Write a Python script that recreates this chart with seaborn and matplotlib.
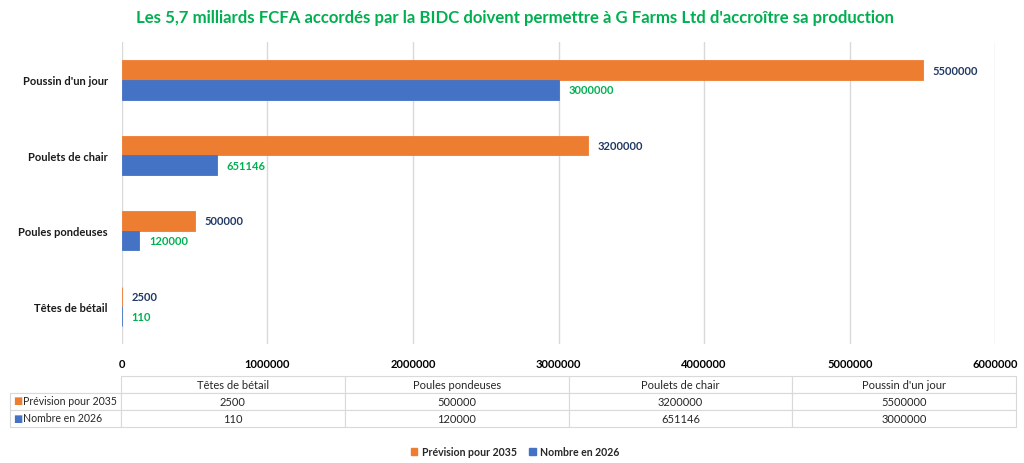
import numpy as np
import pandas as pd
import matplotlib
matplotlib.use("Agg")
import matplotlib.pyplot as plt
import seaborn as sns
from matplotlib.patches import Patch

# ==============================
# DATA
# ==============================
categories = ["Poussin d'un jour", "Poulets de chair", "Poules pondeuses", "Têtes de bétail"]
prevision_2035 = [5500000, 3200000, 500000, 2500]
nombre_2026 = [3000000, 651146, 120000, 110]
series_names = ["Prévision pour 2035", "Nombre en 2026"]
title = "Les 5,7 milliards FCFA accordés par la BIDC doivent permettre à G Farms Ltd d'accroître sa production"
x_ticks = [0, 1000000, 2000000, 3000000, 4000000, 5000000, 6000000]

orange = "#ED7D31"
blue = "#4472C4"
navy = "#203864"
green = "#00B050"
grid_col = "#D9D9D9"

df = pd.DataFrame({
    "Catégorie": categories * 2,
    "Valeur": prevision_2035 + nombre_2026,
    "Série": [series_names[0]] * 4 + [series_names[1]] * 4,
})

sns.set_theme(style="white")
plt.rcParams['font.family'] = ['Lato', 'DejaVu Sans']

fig = plt.figure(figsize=(10.24, 4.64), dpi=100)
ax = fig.add_axes([0.119, 0.2565, 0.853, 0.6505])

sns.barplot(
    data=df, y="Catégorie", x="Valeur", hue="Série",
    order=categories, hue_order=series_names,
    palette=[orange, blue], orient="h", width=0.52,
    ax=ax, legend=False, saturation=1, linewidth=0
)

# data labels + thin edge so the tiny bars stay visible
for container, col, fc in zip(ax.containers, [navy, green], [orange, blue]):
    for p in container:
        p.set_edgecolor(fc)
        p.set_linewidth(0.6)
    ax.bar_label(container, labels=[str(int(v)) for v in container.datavalues],
                 padding=7, color=col, fontsize=8, fontweight="bold")

ax.set_xlim(0, 6000000)
ax.set_ylim(3.5, -0.5)
ax.set_xticks(x_ticks)
ax.set_xticklabels([str(t) for t in x_ticks], fontsize=8, fontweight="bold", color="#000000")
ax.tick_params(axis="x", pad=10, length=0)
ax.tick_params(axis="y", pad=10, length=0)
for lbl in ax.get_yticklabels():
    lbl.set_fontsize(8)
    lbl.set_fontweight("bold")
    lbl.set_color("#1a1a1a")
ax.set_xlabel("")
ax.set_ylabel("")
ax.grid(axis="x", color=grid_col, linewidth=1)
ax.set_axisbelow(True)
for s in ax.spines.values():
    s.set_visible(False)

fig.text(0.503, 0.962, title, ha="center", va="center", color=green,
         fontsize=12.1, fontweight="bold")

# ==============================
# DATA TABLE
# ==============================
tab_cols = categories[::-1]
tab_rows = [prevision_2035[::-1], nombre_2026[::-1]]
tax = fig.add_axes([10 / 1024, 1 - 428 / 464, 1006 / 1024, 51 / 464])
tax.axis("off")
first_w = 111 / 1006
tbl = tax.table(
    cellText=[[""] + [str(v) for v in r] for r in tab_rows],
    colLabels=[""] + tab_cols,
    colWidths=[first_w] + [(1 - first_w) / 4] * 4,
    cellLoc="center",
    bbox=[0, 0, 1, 1],
)
tbl.auto_set_font_size(False)
for (r, c), cell in tbl.get_celld().items():
    cell.set_edgecolor(grid_col)
    cell.set_linewidth(0.8)
    cell.get_text().set_fontsize(8)
    cell.get_text().set_color("#262626")
tbl[0, 0].visible_edges = "B"

row_y = [1 - 401.5 / 464, 1 - 419 / 464]
for name, col, y in zip(series_names, [orange, blue], row_y):
    fig.text(13 / 1024, y, "■", color=col, fontsize=7, va="center", ha="left",
             family="DejaVu Sans")
    fig.text(23 / 1024, y, name, color="#262626", fontsize=7.6, va="center", ha="left")

# ==============================
# LEGEND
# ==============================
handles = [Patch(color=orange, label=series_names[0]),
           Patch(color=blue, label=series_names[1])]
leg = fig.legend(handles=handles, loc="center", bbox_to_anchor=(0.503, 1 - 453 / 464),
                 ncol=2, frameon=False, handlelength=0.6, handleheight=0.6,
                 handletextpad=0.4, columnspacing=1.2,
                 prop={"size": 7.6, "weight": "bold"})
for t in leg.get_texts():
    t.set_color("#262626")

fig.savefig("out.png", dpi=100)
